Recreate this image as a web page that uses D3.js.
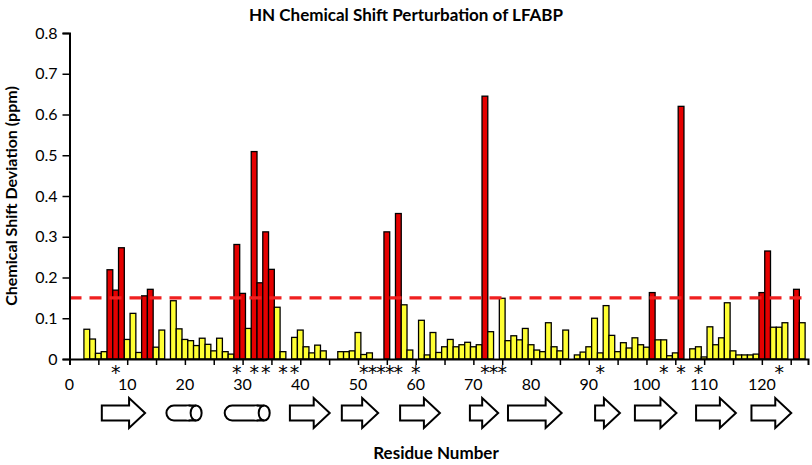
<!DOCTYPE html>
<html>
<head>
<meta charset="utf-8">
<script src="https://cdn.jsdelivr.net/npm/d3@7"></script>
<style>
  body { margin: 0; background: #fff; }
  svg { display: block; font-family: Lato, "Open Sans", sans-serif; }
</style>
</head>
<body>
<svg id="chart" width="812" height="465"></svg>
<script>
'use strict'

// chemical shift deviation (ppm) for residues 1..127
const shiftValues = [
  0, 0, 0.073, 0.049, 0.014, 0.018, 0.219, 0.169, 0.273, 0.048,
  0.112, 0.016, 0.155, 0.171, 0.029, 0.071, 0, 0.143, 0.074, 0.048,
  0.045, 0.033, 0.051, 0.036, 0.02, 0.051, 0.018, 0.012, 0.281, 0.161,
  0.075, 0.509, 0.187, 0.312, 0.22, 0.127, 0.018, 0, 0.053, 0.071,
  0.03, 0.015, 0.034, 0.02, 0, 0, 0.018, 0.018, 0.02, 0.065,
  0.011, 0.015, 0, 0, 0.312, 0, 0.357, 0.133, 0.022, 0,
  0.095, 0.01, 0.065, 0.016, 0.03, 0.048, 0.03, 0.035, 0.041, 0.03,
  0.035, 0.645, 0.067, 0, 0.149, 0.045, 0.057, 0.047, 0.075, 0.035,
  0.022, 0.018, 0.089, 0.03, 0.02, 0.071, 0, 0.01, 0.017, 0.03,
  0.1, 0.015, 0.131, 0.058, 0.018, 0.04, 0.027, 0.052, 0.035, 0.029,
  0.163, 0.047, 0.047, 0.008, 0.015, 0.62, 0, 0.025, 0.03, 0.005,
  0.079, 0.035, 0.052, 0.138, 0.02, 0.01, 0.01, 0.01, 0.012, 0.163,
  0.265, 0.078, 0.078, 0.089, 0, 0.171, 0.089
]
const firstResidue = 1
const cutoff = 0.15

// residues marked with an asterisk under the axis
const starResidues = [8, 29, 32, 34, 37, 39, 51, 52.5, 54, 55.5, 57, 60, 72, 73.5, 75, 92, 103, 106, 109, 123]

// secondary structure, in residue numbers
const structType  = ['strand', 'helix', 'helix', 'strand', 'strand', 'strand', 'strand', 'strand', 'strand', 'strand', 'strand', 'strand']
const structStart = [5.6, 16.8, 26.9, 38.2, 47.2, 57.3, 69.4, 76.0, 91.1, 98.0, 108.6, 118.2]
const structEnd   = [13.1, 22.9, 34.7, 45.1, 53.5, 64.2, 74.3, 85.3, 95.4, 105.2, 115.5, 125.1]

const yTicks = [0, 0.1, 0.2, 0.3, 0.4, 0.5, 0.6, 0.7, 0.8]
const xLabelTicks = [0, 10, 20, 30, 40, 50, 60, 70, 80, 90, 100, 110, 120]
const xMinorTicks = [0, 5, 10, 15, 20, 25, 30, 35, 40, 45, 50, 55, 60, 65, 70, 75, 80, 85, 90, 95, 100, 105, 110, 115, 120, 125]

const svg = d3.select('#chart')

const xScale = d3.scaleLinear().domain([0, 128]).range([69.5, 808])
const yScale = d3.scaleLinear().domain([0, 0.8]).range([359, 33])
const barW = xScale(1) - xScale(0)

const bars = shiftValues.map(function(v, i){
  return {res: i + firstResidue, v: v}
}).filter(function(d){ return d.v > 0 })

// title
svg.append('text')
  .attr('x', 406).attr('y', 21)
  .attr('text-anchor', 'middle')
  .style('font-weight', 'bold').style('font-size', '17px')
  .text('HN Chemical Shift Perturbation of LFABP')

// bars
svg.append('g').selectAll('rect')
  .data(bars)
  .enter()
  .append('rect')
  .attr('x', function(d){ return xScale(d.res) - barW / 2 })
  .attr('y', function(d){ return yScale(d.v) })
  .attr('width', barW)
  .attr('height', function(d){ return yScale(0) - yScale(d.v) })
  .attr('fill', function(d){ return d.v > cutoff ? '#e50000' : '#ffff33' })
  .attr('stroke', '#000')
  .attr('stroke-width', 1.3)

// cutoff line
svg.append('line')
  .attr('x1', xScale(0)).attr('x2', xScale(128))
  .attr('y1', yScale(cutoff)).attr('y2', yScale(cutoff))
  .attr('stroke', '#f02020')
  .attr('stroke-width', 3.2)
  .attr('stroke-dasharray', '12,8')

// y axis
const yAxis = svg.append('g')
  .attr('transform', 'translate(' + xScale(0) + ',0)')
  .call(d3.axisLeft(yScale).tickValues(yTicks).tickSize(7).tickPadding(5)
    .tickFormat(function(d){ return d === 0 ? '0' : d3.format('.1f')(d) }))
yAxis.select('.domain').attr('stroke-width', 2)
yAxis.selectAll('.tick line').attr('stroke-width', 1.5)
yAxis.selectAll('text').style('font-size', '16px').style('font-family', 'Lato')

// x axis
const xAxis = svg.append('g')
  .attr('transform', 'translate(0,' + yScale(0) + ')')
  .call(d3.axisBottom(xScale).tickValues(xMinorTicks).tickSize(6).tickFormat(''))
xAxis.select('.domain').attr('stroke-width', 2)
xAxis.selectAll('.tick line').attr('stroke-width', 1.5)

svg.append('g').selectAll('text')
  .data(xLabelTicks)
  .enter()
  .append('text')
  .attr('x', function(d){ return xScale(d) })
  .attr('y', 390)
  .attr('text-anchor', 'middle')
  .style('font-size', '16px')
  .text(function(d){ return d })

// asterisks
svg.append('g').selectAll('text')
  .data(starResidues)
  .enter()
  .append('text')
  .attr('x', function(d){ return xScale(d) })
  .attr('y', 379)
  .attr('text-anchor', 'middle')
  .style('font-family', 'DejaVu Sans')
  .style('font-size', '19px')
  .text('*')

// secondary structure cartoons
const ssY = 413
const bodyH = 7.5
const headH = 15
const headL = 16
const ssG = svg.append('g')
structType.forEach(function(t, i){
  let x0 = xScale(structStart[i])
  let x1 = xScale(structEnd[i])
  if (t == 'strand'){
    let xh = x1 - headL
    let pts = [[x0, ssY - bodyH], [xh, ssY - bodyH], [xh, ssY - headH], [x1, ssY],
      [xh, ssY + headH], [xh, ssY + bodyH], [x0, ssY + bodyH]]
    ssG.append('path')
      .attr('d', d3.line()(pts) + 'Z')
      .attr('fill', '#fff').attr('stroke', '#000').attr('stroke-width', 2)
  }
  else {
    let erx = 5.5
    ssG.append('rect')
      .attr('x', x0).attr('y', ssY - bodyH)
      .attr('width', x1 - x0 - erx).attr('height', bodyH * 2)
      .attr('rx', bodyH).attr('ry', bodyH)
      .attr('fill', '#fff').attr('stroke', '#000').attr('stroke-width', 2)
    ssG.append('rect')
      .attr('x', x1 - erx - bodyH - 2).attr('y', ssY - bodyH + 1)
      .attr('width', bodyH + 2).attr('height', bodyH * 2 - 2)
      .attr('fill', '#fff')
    ssG.append('ellipse')
      .attr('cx', x1 - erx).attr('cy', ssY)
      .attr('rx', erx).attr('ry', bodyH)
      .attr('fill', '#fff').attr('stroke', '#000').attr('stroke-width', 2)
    ssG.append('path')
      .attr('d', 'M' + (x1 - erx - bodyH) + ',' + (ssY - bodyH) + 'H' + (x1 - erx) +
        'M' + (x1 - erx - bodyH) + ',' + (ssY + bodyH) + 'H' + (x1 - erx))
      .attr('stroke', '#000').attr('stroke-width', 2)
  }
})

// axis titles
svg.append('text')
  .attr('x', 436).attr('y', 459)
  .attr('text-anchor', 'middle')
  .style('font-weight', 'bold').style('font-size', '17px')
  .text('Residue Number')

svg.append('text')
  .attr('transform', 'translate(17,196) rotate(-90)')
  .attr('text-anchor', 'middle')
  .style('font-weight', 'bold').style('font-size', '16px')
  .text('Chemical Shift Deviation (ppm)')
</script>
</body>
</html>
